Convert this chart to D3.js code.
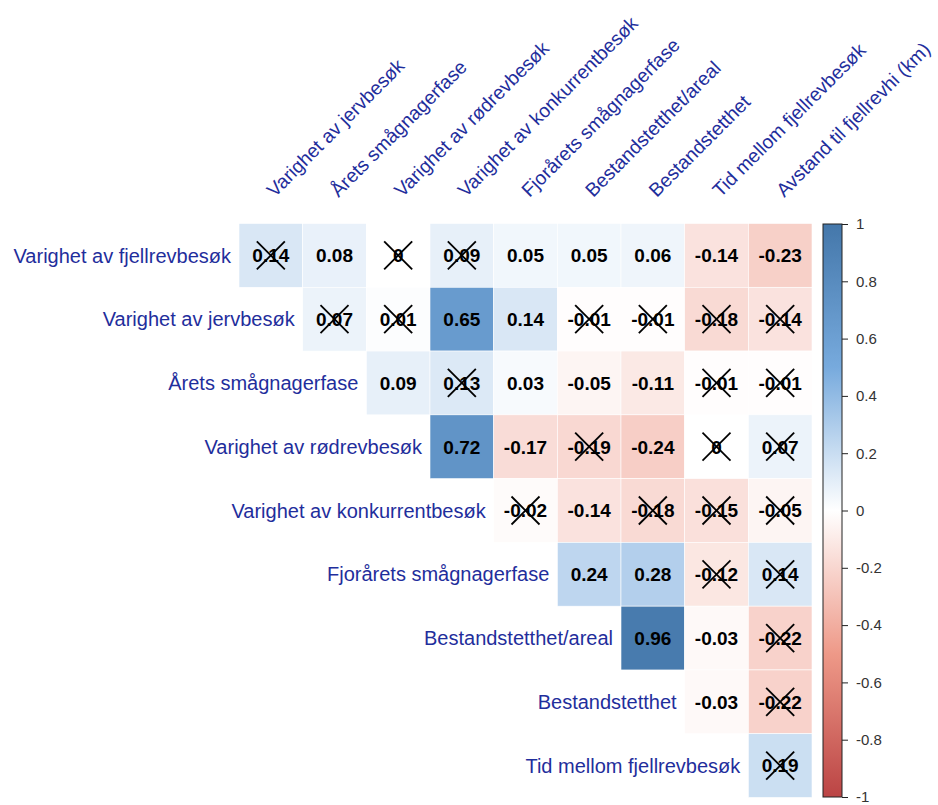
<!DOCTYPE html>
<html>
<head>
<meta charset="utf-8">
<script src="https://cdn.jsdelivr.net/npm/d3@7"></script>
<style>
  body { margin: 0; background: #fff; }
  svg { font-family: "Liberation Sans", Arial, sans-serif; }
</style>
</head>
<body>
<div id="chart"></div>
<script>
// row variables (top to bottom) and column variables (left to right)
var rowVars = ["Varighet av fjellrevbesøk", "Varighet av jervbesøk", "Årets smågnagerfase",
    "Varighet av rødrevbesøk", "Varighet av konkurrentbesøk", "Fjorårets smågnagerfase",
    "Bestandstetthet/areal", "Bestandstetthet", "Tid mellom fjellrevbesøk"];
var colVars = ["Varighet av jervbesøk", "Årets smågnagerfase", "Varighet av rødrevbesøk",
    "Varighet av konkurrentbesøk", "Fjorårets smågnagerfase", "Bestandstetthet/areal",
    "Bestandstetthet", "Tid mellom fjellrevbesøk", "Avstand til fjellrevhi (km)"];

// upper triangle: row i holds columns i..8
var corrValues = [
    [0.14, 0.08, 0, 0.09, 0.05, 0.05, 0.06, -0.14, -0.23],
    [0.07, 0.01, 0.65, 0.14, -0.01, -0.01, -0.18, -0.14],
    [0.09, 0.13, 0.03, -0.05, -0.11, -0.01, -0.01],
    [0.72, -0.17, -0.19, -0.24, 0, 0.07],
    [-0.02, -0.14, -0.18, -0.15, -0.05],
    [0.24, 0.28, -0.12, 0.14],
    [0.96, -0.03, -0.22],
    [-0.03, -0.22],
    [0.19]
];
// 1 = not significant (crossed out)
var notSignificant = [
    [1, 0, 1, 1, 0, 0, 0, 0, 0],
    [1, 1, 0, 0, 1, 1, 1, 1],
    [0, 1, 0, 0, 0, 1, 1],
    [0, 0, 1, 0, 1, 1],
    [1, 0, 1, 1, 1],
    [0, 0, 1, 1],
    [0, 0, 1],
    [0, 1],
    [1]
];
var legendTicks = [1, 0.8, 0.6, 0.4, 0.2, 0, -0.2, -0.4, -0.6, -0.8, -1];

var cells = [];
corrValues.forEach(function(row, i) {
    row.forEach(function(v, k) {
        cells.push({row: rowVars[i], col: colVars[i + k], value: v, cross: notSignificant[i][k] == 1});
    });
});

var svg = d3.select("#chart").append("svg")
    .attr("width", 938)
    .attr("height", 805);

var x = d3.scaleBand().domain(colVars).range([239, 812]);
var y = d3.scaleBand().domain(rowVars).range([223.5, 797.5]);

var color = d3.scaleLinear()
    .domain([-1, -0.5, 0, 0.5, 1])
    .range(["#BB4444", "#EE9988", "#FFFFFF", "#77AADD", "#4477AA"]);

var labelColor = "#1f2e9c";

// cells
svg.selectAll("rect.cell")
    .data(cells)
    .enter().append("rect")
    .attr("class", "cell")
    .attr("x", function(d) { return x(d.col); })
    .attr("y", function(d) { return y(d.row); })
    .attr("width", x.bandwidth())
    .attr("height", y.bandwidth())
    .attr("fill", function(d) { return color(d.value); })
    .attr("stroke", "#fff")
    .attr("stroke-width", 0.6);

// numbers
svg.selectAll("text.num")
    .data(cells)
    .enter().append("text")
    .attr("class", "num")
    .attr("x", function(d) { return x(d.col) + x.bandwidth() / 2; })
    .attr("y", function(d) { return y(d.row) + y.bandwidth() / 2; })
    .attr("dy", "0.36em")
    .attr("text-anchor", "middle")
    .attr("font-size", 19)
    .attr("font-weight", "bold")
    .attr("fill", "#000")
    .text(function(d) { return d.value; });

// crosses for non-significant values
var half = 14;
var crossed = svg.selectAll("g.cross")
    .data(cells.filter(function(d) { return d.cross; }))
    .enter().append("g")
    .attr("class", "cross")
    .attr("transform", function(d) {
        return "translate(" + (x(d.col) + x.bandwidth() / 2) + "," + (y(d.row) + y.bandwidth() / 2) + ")";
    });
crossed.append("line")
    .attr("x1", -half).attr("y1", -half).attr("x2", half).attr("y2", half)
    .attr("stroke", "#000").attr("stroke-width", 1.8);
crossed.append("line")
    .attr("x1", -half).attr("y1", half).attr("x2", half).attr("y2", -half)
    .attr("stroke", "#000").attr("stroke-width", 1.8);

// row labels
svg.selectAll("text.rowlab")
    .data(rowVars)
    .enter().append("text")
    .attr("class", "rowlab")
    .attr("x", function(d, i) { return x(colVars[i]) - 8; })
    .attr("y", function(d) { return y(d) + y.bandwidth() / 2; })
    .attr("dy", "0.36em")
    .attr("text-anchor", "end")
    .attr("font-size", 20)
    .attr("fill", labelColor)
    .text(function(d) { return d; });

// column labels, rotated
svg.selectAll("text.collab")
    .data(colVars)
    .enter().append("text")
    .attr("class", "collab")
    .attr("transform", function(d) {
        return "translate(" + (x(d) + x.bandwidth() / 2 + 4) + ",198) rotate(-45)";
    })
    .attr("text-anchor", "start")
    .attr("font-size", 19.3)
    .attr("fill", labelColor)
    .text(function(d) { return d; });

// colour legend
var ly = d3.scaleLinear().domain([-1, 1]).range([797, 224]);
var defs = svg.append("defs");
var grad = defs.append("linearGradient")
    .attr("id", "cbar")
    .attr("x1", 0).attr("y1", 1).attr("x2", 0).attr("y2", 0);
color.domain().forEach(function(v) {
    grad.append("stop")
        .attr("offset", ((v + 1) / 2 * 100) + "%")
        .attr("stop-color", color(v));
});
svg.append("rect")
    .attr("x", 823)
    .attr("y", ly(1))
    .attr("width", 19)
    .attr("height", ly(-1) - ly(1))
    .attr("fill", "url(#cbar)")
    .attr("stroke", "#222")
    .attr("stroke-width", 1);

var axis = d3.axisRight(ly)
    .tickValues(legendTicks)
    .tickSize(6)
    .tickPadding(8)
    .tickFormat(function(d) { return String(+d.toFixed(1)); });
var ag = svg.append("g")
    .attr("transform", "translate(842,0)")
    .call(axis);
ag.select(".domain").remove();
ag.selectAll(".tick line").attr("stroke", "#222");
ag.selectAll(".tick text")
    .attr("font-size", 15)
    .attr("font-family", "Liberation Sans, Arial, sans-serif")
    .attr("fill", "#333");
</script>
</body>
</html>
